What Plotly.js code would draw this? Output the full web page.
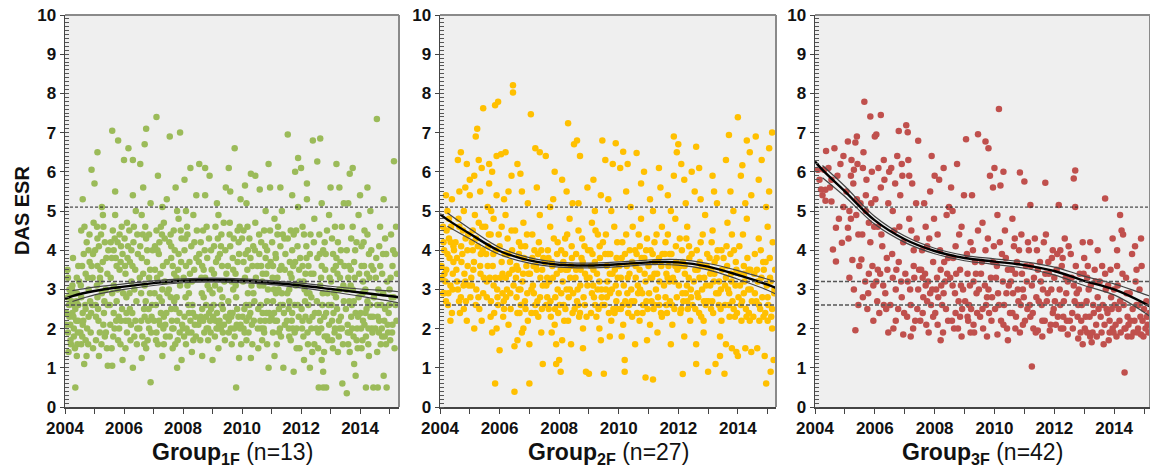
<!DOCTYPE html>
<html><head><meta charset="utf-8">
<script src="https://cdn.plot.ly/plotly-3.0.1.min.js"></script>
<style>html,body{margin:0;padding:0;background:#fff}#chart{width:1150px;height:468px}</style>
</head><body><div id="chart"></div>
<script>
// ---- data ----
const groupNames = ['1F', '2F', '3F'];
const groupN = [13, 27, 42];
const refLines = [5.1, 3.2, 2.6];
const fitYears = [2004, 2004.25, 2005, 2006, 2007, 2008, 2009, 2010, 2011, 2012, 2013, 2014, 2015, 2015.3];

const fit1F = [2.76, 2.83, 2.96, 3.07, 3.16, 3.22, 3.24, 3.22, 3.17, 3.10, 3.01, 2.92, 2.83, 2.80];
const up1F  = [null, 2.97, 3.06, 3.14, 3.22, 3.27, 3.29, 3.27, 3.22, 3.16, 3.08, 3.01, 2.96, 2.94];
const lo1F  = [null, 2.69, 2.86, 3.00, 3.10, 3.17, 3.19, 3.17, 3.12, 3.04, 2.94, 2.83, 2.70, 2.66];

const fit2F = [4.92, 4.78, 4.42, 3.98, 3.74, 3.63, 3.61, 3.64, 3.69, 3.69, 3.58, 3.37, 3.12, 3.03];
const up2F  = [null, 4.95, 4.55, 4.07, 3.81, 3.69, 3.67, 3.70, 3.75, 3.76, 3.66, 3.48, 3.26, 3.19];
const lo2F  = [null, 4.61, 4.29, 3.89, 3.67, 3.57, 3.55, 3.58, 3.63, 3.62, 3.50, 3.26, 2.98, 2.87];

const fit3F = [6.26, 6.05, 5.50, 4.76, 4.28, 3.98, 3.80, 3.71, 3.62, 3.47, 3.22, 3.00, 2.65, 2.52];
const up3F  = [null, 6.16, 5.63, 4.86, 4.36, 4.05, 3.87, 3.78, 3.70, 3.57, 3.34, 3.14, 2.88, 2.80];
const lo3F  = [null, 5.85, 5.37, 4.66, 4.20, 3.91, 3.73, 3.64, 3.54, 3.37, 3.10, 2.86, 2.42, 2.25];

const pts1F = [
[2004.1,2.8],[2004.15,2.3],[2004.2,1.6],[2004.25,3.1],[2004.3,2.0],[2004.35,0.5],[2004.35,2.5],[2004.4,3.3],[2004.4,1.3],[2004.45,2.2],[2004.2,2.9],[2004.3,2.6],[2004.1,1.9],[2004.45,3.6],
[2004.55,4.5],[2004.6,5.3],[2004.6,2.4],[2004.65,1.1],[2004.7,3.4],[2004.75,2.0],[2004.8,4.0],[2004.85,2.7],[2004.9,6.05],[2004.95,1.5],[2004.95,3.9],[2004.7,1.7],[2004.8,3.0],[2004.6,2.1],
[2005.0,5.7],[2005.05,2.3],[2005.1,6.5],[2005.1,4.3],[2005.15,1.3],[2005.2,3.5],[2005.25,5.1],[2005.3,2.1],[2005.3,4.6],[2005.35,1.8],[2005.4,3.8],[2005.45,2.6],[2005.45,1.05],[2005.2,3.2],[2005.1,2.8],
[2005.55,4.2],[2005.6,7.05],[2005.6,1.05],[2005.65,2.4],[2005.7,4.9],[2005.75,3.6],[2005.8,6.8],[2005.8,1.7],[2005.85,4.4],[2005.9,2.2],[2005.95,1.2],[2005.95,3.9],[2005.7,5.5],[2005.6,2.9],[2005.9,4.1],
[2006.0,6.3],[2006.05,3.4],[2006.1,1.9],[2006.1,4.7],[2006.15,6.6],[2006.2,2.5],[2006.25,4.0],[2006.3,6.3],[2006.3,1.0],[2006.35,3.0],[2006.4,5.0],[2006.45,2.0],[2006.45,4.4],[2006.2,3.7],[2006.05,2.2],
[2006.55,6.2],[2006.6,1.25],[2006.6,3.8],[2006.65,5.6],[2006.7,2.3],[2006.75,7.1],[2006.75,4.3],[2006.8,1.7],[2006.85,3.3],[2006.9,0.63],[2006.9,5.2],[2006.95,2.6],[2006.7,6.7],[2006.6,4.9],[2006.85,2.0],
[2007.1,7.4],[2007.05,3.5],[2007.1,1.9],[2007.15,5.9],[2007.2,4.2],[2007.25,2.4],[2007.3,1.3],[2007.3,3.0],[2007.35,4.7],[2007.4,2.1],[2007.45,5.3],[2007.45,3.7],[2007.2,2.8],[2007.1,4.5],[2007.35,1.6],
[2007.55,6.9],[2007.6,2.5],[2007.6,4.1],[2007.65,1.5],[2007.7,3.4],[2007.75,5.6],[2007.8,1.0],[2007.8,2.2],[2007.85,4.8],[2007.9,7.0],[2007.9,3.1],[2007.95,1.2],[2007.95,4.3],[2007.7,2.7],[2007.6,3.8],
[2008.0,2.0],[2008.05,5.8],[2008.1,3.6],[2008.1,1.6],[2008.15,4.4],[2008.2,2.4],[2008.25,6.1],[2008.3,3.2],[2008.3,1.4],[2008.35,4.9],[2008.4,2.1],[2008.45,3.8],[2008.45,5.4],[2008.2,2.9],[2008.05,4.0],
[2008.55,6.2],[2008.6,2.3],[2008.6,4.2],[2008.65,1.3],[2008.7,3.5],[2008.75,6.1],[2008.8,2.0],[2008.8,4.6],[2008.85,1.7],[2008.9,3.0],[2008.9,5.9],[2008.95,2.5],[2008.95,4.0],[2008.7,2.8],[2008.65,3.6],
[2009.0,1.2],[2009.05,3.4],[2009.1,4.6],[2009.1,2.2],[2009.15,5.2],[2009.2,1.5],[2009.25,3.9],[2009.3,2.6],[2009.3,4.4],[2009.35,1.9],[2009.4,3.2],[2009.45,5.6],[2009.45,2.3],[2009.2,2.0],[2009.0,2.9],
[2009.55,6.1],[2009.6,2.4],[2009.6,4.1],[2009.65,1.6],[2009.7,3.5],[2009.75,6.6],[2009.8,0.5],[2009.8,2.8],[2009.85,4.5],[2009.9,1.25],[2009.9,3.9],[2009.95,2.1],[2009.95,5.3],[2009.7,3.0],[2009.55,1.9],
[2010.0,4.3],[2010.05,2.0],[2010.1,5.65],[2010.1,3.3],[2010.15,1.7],[2010.2,4.0],[2010.25,2.6],[2010.3,5.95],[2010.3,1.25],[2010.35,3.6],[2010.4,2.2],[2010.45,4.7],[2010.45,5.9],[2010.2,2.9],[2010.05,3.7],
[2010.55,1.5],[2010.6,5.55],[2010.6,3.1],[2010.65,4.2],[2010.7,2.4],[2010.75,1.9],[2010.8,3.8],[2010.85,2.7],[2010.9,6.2],[2010.9,1.0],[2010.95,4.5],[2010.95,5.6],[2010.7,3.4],[2010.65,2.0],[2010.85,4.0],
[2011.0,2.3],[2011.05,3.6],[2011.1,1.3],[2011.1,4.8],[2011.15,2.9],[2011.2,3.3],[2011.25,1.9],[2011.3,4.1],[2011.3,2.6],[2011.35,5.0],[2011.4,1.0],[2011.45,3.5],[2011.45,2.1],[2011.2,4.4],[2011.05,2.7],
[2011.55,6.95],[2011.6,3.0],[2011.6,1.8],[2011.65,4.5],[2011.7,2.4],[2011.75,0.9],[2011.8,6.0],[2011.8,3.7],[2011.85,2.0],[2011.9,5.1],[2011.9,6.35],[2011.95,3.2],[2011.95,1.5],[2011.7,4.0],[2011.6,2.7],
[2012.0,6.1],[2012.05,2.2],[2012.1,4.4],[2012.1,1.2],[2012.15,3.4],[2012.2,5.3],[2012.25,2.6],[2012.3,1.0],[2012.3,3.9],[2012.35,2.0],[2012.4,6.8],[2012.45,4.8],[2012.45,1.6],[2012.2,2.9],[2012.05,3.6],
[2012.55,6.26],[2012.6,0.5],[2012.6,2.4],[2012.65,6.85],[2012.7,1.2],[2012.7,3.6],[2012.75,0.9],[2012.8,4.2],[2012.8,1.8],[2012.85,0.5],[2012.9,2.9],[2012.95,4.9],[2012.95,2.1],[2012.65,3.1],[2012.75,0.5],
[2013.0,5.6],[2013.05,1.7],[2013.1,3.5],[2013.1,2.4],[2013.15,4.6],[2013.2,6.2],[2013.25,1.4],[2013.3,3.0],[2013.3,2.0],[2013.35,4.0],[2013.4,0.6],[2013.45,5.2],[2013.45,2.7],[2013.2,3.8],[2013.05,2.2],
[2013.55,0.35],[2013.6,3.3],[2013.6,1.6],[2013.65,5.95],[2013.7,4.3],[2013.7,2.3],[2013.75,6.1],[2013.8,1.1],[2013.8,3.7],[2013.85,0.8],[2013.9,2.0],[2013.95,4.9],[2013.95,2.8],[2013.65,1.9],[2013.75,3.0],
[2014.0,5.4],[2014.05,1.5],[2014.1,3.2],[2014.1,2.2],[2014.15,4.5],[2014.2,0.5],[2014.25,2.7],[2014.3,3.9],[2014.3,1.3],[2014.35,5.0],[2014.4,2.0],[2014.45,0.5],[2014.45,3.5],[2014.2,1.8],[2014.05,4.1],
[2014.57,7.35],[2014.6,0.5],[2014.6,2.3],[2014.65,4.1],[2014.7,1.6],[2014.75,3.4],[2014.8,0.8],[2014.8,5.3],[2014.85,2.5],[2015.15,6.27],[2014.95,1.9],[2015.0,3.0],[2015.05,4.4],[2015.1,2.1],[2015.1,3.6],[2014.9,0.5]
];
const pts1Fmore = [
[2004.05,2.4],[2004.1,3.3],[2004.12,1.4],[2004.18,2.1],[2004.22,2.7],[2004.27,3.8],[2004.3,1.8],[2004.33,2.9],[2004.38,2.2],[2004.42,1.6],[2004.45,2.6],[2004.48,3.2],[2004.25,2.4],[2004.15,3.0],[2004.4,2.9],
[2004.52,1.9],[2004.55,2.8],[2004.58,3.6],[2004.62,2.2],[2004.66,4.6],[2004.7,2.5],[2004.73,1.3],[2004.77,3.3],[2004.8,2.3],[2004.83,4.4],[2004.87,1.9],[2004.9,3.6],[2004.93,2.6],[2004.97,4.7],[2004.55,1.6],
[2005.02,4.0],[2005.05,1.7],[2005.08,3.1],[2005.12,2.5],[2005.15,4.1],[2005.18,1.9],[2005.22,4.4],[2005.25,2.9],[2005.28,3.7],[2005.32,2.4],[2005.35,4.2],[2005.38,3.0],[2005.42,1.5],[2005.47,4.0],[2005.1,3.6],
[2005.52,2.6],[2005.55,3.3],[2005.58,1.5],[2005.62,4.5],[2005.65,3.1],[2005.68,2.0],[2005.72,3.8],[2005.75,2.7],[2005.78,4.2],[2005.82,2.3],[2005.85,3.5],[2005.88,1.6],[2005.92,4.6],[2005.97,2.9],[2005.65,4.0],
[2006.02,4.3],[2006.05,1.5],[2006.08,2.8],[2006.12,3.8],[2006.15,2.2],[2006.18,4.5],[2006.22,1.7],[2006.25,3.2],[2006.28,2.4],[2006.32,4.2],[2006.35,1.8],[2006.38,3.5],[2006.42,2.7],[2006.47,3.9],[2006.3,5.4],
[2006.52,2.0],[2006.55,4.1],[2006.58,2.9],[2006.62,1.8],[2006.65,3.4],[2006.68,2.5],[2006.72,4.6],[2006.75,1.5],[2006.78,3.7],[2006.82,2.2],[2006.85,4.4],[2006.88,2.9],[2006.92,1.9],[2006.97,4.0],[2006.7,3.1],
[2007.02,2.2],[2007.05,4.1],[2007.08,2.6],[2007.12,3.3],[2007.15,1.6],[2007.18,3.9],[2007.22,2.1],[2007.25,4.6],[2007.28,2.7],[2007.32,3.6],[2007.35,2.3],[2007.38,4.3],[2007.42,1.8],[2007.47,2.9],[2007.3,5.1],
[2007.52,3.0],[2007.55,1.8],[2007.58,4.4],[2007.62,2.2],[2007.65,3.6],[2007.68,2.0],[2007.72,4.0],[2007.75,2.5],[2007.78,3.3],[2007.82,1.7],[2007.85,3.9],[2007.88,2.4],[2007.92,4.5],[2007.97,2.1],[2007.8,5.0],
[2008.02,3.3],[2008.05,2.3],[2008.08,4.3],[2008.12,2.0],[2008.15,3.1],[2008.18,1.9],[2008.22,3.7],[2008.25,2.2],[2008.28,4.1],[2008.32,2.6],[2008.35,1.7],[2008.38,3.5],[2008.42,2.3],[2008.47,4.5],[2008.1,5.0],
[2008.52,2.1],[2008.55,3.9],[2008.58,2.2],[2008.62,3.3],[2008.65,2.5],[2008.68,4.5],[2008.72,1.9],[2008.75,3.3],[2008.78,2.3],[2008.82,3.8],[2008.85,2.0],[2008.88,4.3],[2008.92,2.2],[2008.97,3.5],[2008.75,5.4],
[2009.02,2.3],[2009.05,4.1],[2009.08,1.8],[2009.12,3.7],[2009.15,2.4],[2009.18,4.3],[2009.22,2.1],[2009.25,3.0],[2009.28,2.0],[2009.32,3.6],[2009.35,2.5],[2009.38,4.7],[2009.42,1.7],[2009.47,3.4],[2009.2,4.9],
[2009.52,3.6],[2009.55,2.2],[2009.58,4.4],[2009.62,2.0],[2009.65,3.2],[2009.68,2.4],[2009.72,4.3],[2009.75,1.8],[2009.78,3.4],[2009.82,2.1],[2009.85,3.7],[2009.88,2.3],[2009.92,4.6],[2009.97,1.6],[2009.6,5.5],
[2010.02,2.3],[2010.05,4.5],[2010.08,2.5],[2010.12,3.9],[2010.15,2.2],[2010.18,3.5],[2010.22,1.9],[2010.25,4.3],[2010.28,2.4],[2010.32,3.1],[2010.35,1.6],[2010.38,4.1],[2010.42,2.7],[2010.47,3.3],[2010.15,5.2],
[2010.52,3.6],[2010.55,2.5],[2010.58,4.4],[2010.62,2.2],[2010.65,3.6],[2010.68,1.7],[2010.72,3.1],[2010.75,4.5],[2010.78,2.2],[2010.82,3.4],[2010.85,1.6],[2010.88,3.0],[2010.92,2.4],[2010.97,3.7],[2010.8,5.0],
[2011.02,4.2],[2011.05,1.9],[2011.08,3.0],[2011.12,2.2],[2011.15,3.8],[2011.18,1.6],[2011.22,4.6],[2011.25,2.5],[2011.28,3.5],[2011.32,1.8],[2011.35,2.9],[2011.38,4.4],[2011.42,2.4],[2011.47,3.9],[2011.3,5.6],
[2011.52,2.2],[2011.55,4.3],[2011.58,2.5],[2011.62,3.7],[2011.65,1.7],[2011.68,3.3],[2011.72,2.0],[2011.75,4.4],[2011.78,2.6],[2011.82,3.1],[2011.85,1.5],[2011.88,4.1],[2011.92,2.3],[2011.97,3.8],[2011.7,5.4],
[2012.02,2.5],[2012.05,4.6],[2012.08,1.8],[2012.12,3.0],[2012.15,2.3],[2012.18,4.1],[2012.22,1.9],[2012.25,3.6],[2012.28,2.2],[2012.32,4.4],[2012.35,2.8],[2012.38,1.4],[2012.42,3.4],[2012.47,2.4],[2012.2,5.7],
[2012.52,2.0],[2012.55,3.8],[2012.58,1.5],[2012.62,4.4],[2012.65,2.2],[2012.68,3.3],[2012.72,2.6],[2012.75,4.0],[2012.78,1.4],[2012.82,3.5],[2012.85,2.4],[2012.88,4.5],[2012.92,1.7],[2012.97,3.3],[2012.7,5.2],
[2013.02,3.2],[2013.05,4.3],[2013.08,1.5],[2013.12,2.9],[2013.15,2.0],[2013.18,3.6],[2013.22,2.5],[2013.25,4.2],[2013.28,1.8],[2013.32,3.3],[2013.35,2.3],[2013.38,4.6],[2013.42,1.6],[2013.47,3.6],[2013.3,5.6],
[2013.52,2.5],[2013.55,4.0],[2013.58,2.1],[2013.62,3.6],[2013.65,1.4],[2013.68,3.1],[2013.72,2.6],[2013.75,4.6],[2013.78,1.8],[2013.82,3.3],[2013.85,2.4],[2013.88,4.2],[2013.92,1.5],[2013.97,3.4],[2013.6,5.2],
[2014.02,2.4],[2014.05,3.6],[2014.08,1.7],[2014.12,4.2],[2014.15,2.1],[2014.18,3.0],[2014.22,2.5],[2014.25,4.4],[2014.28,1.6],[2014.32,3.3],[2014.35,2.3],[2014.38,4.0],[2014.42,1.9],[2014.47,2.8],[2014.25,5.6],
[2014.52,2.0],[2014.55,3.8],[2014.58,1.4],[2014.62,3.0],[2014.65,2.2],[2014.68,4.6],[2014.72,2.6],[2014.75,1.8],[2014.78,3.9],[2014.82,2.2],[2014.85,4.3],[2014.88,1.6],[2014.92,3.2],[2014.97,2.4],[2015.02,1.7],[2015.07,2.8],[2015.12,4.0],[2015.17,1.5],[2015.2,2.6],[2015.25,3.4],[2015.22,4.6]
];
const pts1Fextra = [
[2004.035,2.1],[2004.085,3.5],[2004.135,2.6],[2004.185,1.7],[2004.235,3.0],[2004.285,2.3],[2004.335,1.5],[2004.385,2.7],[2004.435,1.9],
[2004.535,3.1],[2004.585,1.8],[2004.635,3.9],[2004.685,2.6],[2004.735,4.2],[2004.785,1.6],[2004.835,3.7],[2004.885,2.4],[2004.935,3.3],
[2005.035,2.6],[2005.085,4.6],[2005.135,2.2],[2005.185,3.3],[2005.235,1.6],[2005.285,4.9],[2005.335,2.7],[2005.385,1.9],[2005.435,3.4],
[2005.535,2.1],[2005.585,3.8],[2005.635,1.8],[2005.685,4.3],[2005.735,2.2],[2005.785,3.0],[2005.835,2.0],[2005.885,3.7],[2005.935,2.5],
[2006.035,3.6],[2006.085,2.4],[2006.135,4.1],[2006.185,2.9],[2006.235,2.1],[2006.285,3.6],[2006.335,4.6],[2006.385,2.2],[2006.435,1.6],
[2006.535,3.3],[2006.585,2.2],[2006.635,4.4],[2006.685,1.6],[2006.735,2.7],[2006.785,4.0],[2006.835,2.5],[2006.885,3.5],[2006.935,2.3],
[2007.035,2.9],[2007.085,1.7],[2007.135,4.0],[2007.185,2.2],[2007.235,3.4],[2007.285,4.4],[2007.335,2.0],[2007.385,3.2],[2007.435,2.4],
[2007.535,4.2],[2007.585,2.8],[2007.635,2.0],[2007.685,4.5],[2007.735,1.6],[2007.785,2.8],[2007.835,3.5],[2007.885,1.9],[2007.935,3.7],
[2008.035,1.8],[2008.085,2.8],[2008.135,4.6],[2008.185,2.6],[2008.235,3.4],[2008.285,1.9],[2008.335,2.4],[2008.385,4.2],[2008.435,1.8],
[2008.535,3.7],[2008.585,1.7],[2008.635,2.9],[2008.685,2.2],[2008.735,4.0],[2008.785,2.6],[2008.835,3.1],[2008.885,2.4],[2008.935,1.9],
[2009.035,2.6],[2009.085,3.1],[2009.135,2.0],[2009.185,3.8],[2009.235,2.2],[2009.285,4.1],[2009.335,2.8],[2009.385,2.1],[2009.435,4.0],
[2009.535,2.7],[2009.585,4.7],[2009.635,2.3],[2009.685,3.8],[2009.735,2.0],[2009.785,3.1],[2009.835,2.5],[2009.885,4.2],[2009.935,2.0],
[2010.035,3.2],[2010.085,1.9],[2010.135,2.6],[2010.185,4.6],[2010.235,2.3],[2010.285,3.8],[2010.335,2.1],[2010.385,2.9],[2010.435,4.0],
[2010.535,2.0],[2010.585,3.9],[2010.635,2.6],[2010.685,3.2],[2010.735,2.0],[2010.785,4.1],[2010.835,2.4],[2010.885,3.6],[2010.935,2.2],
[2011.035,3.3],[2011.085,2.4],[2011.135,3.9],[2011.185,2.2],[2011.235,3.0],[2011.285,2.0],[2011.335,3.6],[2011.385,2.6],[2011.435,4.3],
[2011.535,2.9],[2011.585,2.0],[2011.635,3.4],[2011.685,2.2],[2011.735,3.6],[2011.785,1.9],[2011.835,4.5],[2011.885,2.6],[2011.935,3.5],
[2012.035,2.0],[2012.085,3.2],[2012.135,2.7],[2012.185,3.8],[2012.235,1.6],[2012.285,2.9],[2012.335,3.4],[2012.385,2.3],[2012.435,4.2],
[2012.535,2.7],[2012.585,1.9],[2012.635,3.9],[2012.685,2.0],[2012.735,2.9],[2012.785,2.3],[2012.835,3.9],[2012.885,1.8],[2012.935,2.6],
[2013.035,2.6],[2013.085,3.9],[2013.135,1.9],[2013.185,2.8],[2013.235,3.4],[2013.285,2.2],[2013.335,3.7],[2013.385,2.0],[2013.435,3.1],
[2013.535,3.0],[2013.585,1.9],[2013.635,2.7],[2013.685,3.5],[2013.735,2.0],[2013.785,2.7],[2013.835,4.0],[2013.885,1.7],[2013.935,2.3],
[2014.035,2.0],[2014.085,2.9],[2014.135,3.6],[2014.185,2.4],[2014.235,3.4],[2014.285,2.0],[2014.335,2.6],[2014.385,3.6],[2014.435,2.3],
[2014.535,3.3],[2014.585,2.6],[2014.635,1.9],[2014.685,3.6],[2014.735,2.0],[2014.785,2.9],[2014.835,1.8],[2014.885,3.9],[2014.935,2.1],[2014.985,2.6],[2015.035,3.3],[2015.085,1.9],[2015.135,2.8],[2015.185,3.9],[2015.235,2.2]
];

const pts2F = [
[2004.1,4.6],[2004.15,3.4],[2004.2,2.7],[2004.2,5.4],[2004.25,3.9],[2004.3,4.3],[2004.35,3.1],[2004.4,2.4],[2004.4,5.3],[2004.45,3.7],[2004.3,4.8],[2004.15,2.9],[2004.45,4.1],
[2004.55,3.5],[2004.6,6.3],[2004.65,4.6],[2004.7,6.5],[2004.7,2.8],[2004.75,3.9],[2004.8,5.0],[2004.85,3.2],[2004.9,6.2],[2004.9,2.2],[2004.95,4.4],[2004.6,3.0],[2004.8,2.5],
[2005.0,5.8],[2005.0,5.4],[2005.05,3.3],[2005.1,4.0],[2005.15,2.0],[2005.2,6.9],[2005.2,2.6],[2005.25,7.1],[2005.3,4.7],[2005.3,6.3],[2005.35,3.6],[2005.4,6.1],[2005.45,7.62],[2005.45,2.9],[2005.1,4.5],[2005.35,5.5],
[2005.55,3.9],[2005.6,5.1],[2005.65,6.2],[2005.7,2.3],[2005.7,4.4],[2005.75,6.0],[2005.8,3.1],[2005.85,0.6],[2005.85,7.7],[2005.9,5.4],[2005.9,6.4],[2005.95,7.79],[2005.95,2.6],[2005.6,3.6],[2005.8,4.8],[2005.75,1.9],
[2006.0,1.45],[2006.0,4.1],[2006.05,6.45],[2006.1,3.4],[2006.15,2.5],[2006.2,4.9],[2006.25,3.0],[2006.3,5.5],[2006.3,2.1],[2006.35,3.7],[2006.4,4.5],[2006.45,8.21],[2006.45,8.02],[2006.5,0.39],[2006.5,1.55],[2006.2,6.5],[2006.1,2.9],
[2006.55,3.3],[2006.6,6.2],[2006.6,2.4],[2006.65,4.2],[2006.7,5.95],[2006.7,3.0],[2006.75,1.9],[2006.8,4.7],[2006.85,2.7],[2006.9,3.6],[2006.95,5.2],[2006.95,2.2],[2006.65,3.9],[2006.8,2.0],
[2007.0,0.6],[2007.0,1.6],[2007.05,7.47],[2007.1,4.4],[2007.15,2.9],[2007.2,6.6],[2007.25,3.5],[2007.3,2.3],[2007.35,6.5],[2007.4,4.0],[2007.45,1.1],[2007.45,3.1],[2007.2,2.6],[2007.35,4.9],[2007.1,3.8],
[2007.55,6.4],[2007.6,3.3],[2007.65,2.5],[2007.7,4.6],[2007.75,3.7],[2007.8,5.3],[2007.85,2.1],[2007.9,1.6],[2007.9,1.1],[2007.95,4.2],[2007.95,3.0],[2007.6,2.8],[2007.75,1.9],[2008.0,1.2],
[2008.05,0.9],[2008.05,3.5],[2008.1,5.8],[2008.15,2.6],[2008.2,4.3],[2008.25,3.0],[2008.3,7.24],[2008.3,2.2],[2008.35,4.8],[2008.4,3.6],[2008.45,2.4],[2008.45,5.2],[2008.2,3.9],[2008.1,1.7],
[2008.5,6.7],[2008.55,3.3],[2008.6,6.8],[2008.6,2.7],[2008.65,4.5],[2008.7,6.4],[2008.75,3.8],[2008.8,2.0],[2008.85,4.1],[2008.9,0.9],[2008.95,3.1],[2008.95,5.6],[2008.7,2.4],[2009.0,0.85],
[2009.05,4.0],[2009.1,2.9],[2009.15,3.5],[2009.2,5.0],[2009.25,2.3],[2009.3,4.4],[2009.35,3.2],[2009.4,1.7],[2009.45,6.8],[2009.45,2.6],[2009.2,3.7],[2009.1,4.7],[2009.35,2.0],
[2009.5,0.85],[2009.55,3.9],[2009.6,2.8],[2009.65,5.3],[2009.7,3.4],[2009.75,2.2],[2009.8,6.2],[2009.85,4.6],[2009.9,6.73],[2009.9,3.1],[2009.95,2.5],[2009.95,4.2],[2009.7,1.8],[2009.6,3.6],
[2010.0,2.9],[2010.05,6.1],[2010.1,3.8],[2010.15,6.51],[2010.15,2.1],[2010.2,0.9],[2010.2,1.2],[2010.25,4.4],[2010.3,3.3],[2010.35,2.6],[2010.4,5.1],[2010.45,3.7],[2010.3,6.2],[2010.45,2.3],
[2010.55,4.0],[2010.6,6.48],[2010.65,2.9],[2010.7,3.5],[2010.75,4.8],[2010.8,2.4],[2010.85,6.0],[2010.9,0.75],[2010.9,3.2],[2010.95,4.3],[2010.95,1.7],[2010.7,2.2],[2010.6,3.9],
[2011.0,3.6],[2011.05,5.3],[2011.1,2.7],[2011.15,0.7],[2011.2,4.2],[2011.25,3.0],[2011.3,1.9],[2011.35,3.8],[2011.4,5.6],[2011.45,2.3],[2011.45,4.6],[2011.2,3.4],[2011.05,2.1],
[2011.55,3.9],[2011.6,2.6],[2011.65,4.4],[2011.7,3.2],[2011.75,5.0],[2011.8,2.1],[2011.85,6.9],[2011.9,3.6],[2011.95,6.5],[2011.95,2.8],[2011.75,1.6],[2011.6,3.4],[2011.9,4.8],
[2012.0,6.7],[2012.05,4.3],[2012.1,2.5],[2012.15,0.84],[2012.15,3.7],[2012.2,5.8],[2012.25,2.9],[2012.3,4.6],[2012.35,3.3],[2012.4,2.2],[2012.45,6.0],[2012.45,3.9],[2012.2,1.8],[2012.3,2.7],
[2012.55,5.5],[2012.6,1.1],[2012.6,6.64],[2012.65,3.5],[2012.7,2.4],[2012.75,4.2],[2012.8,3.0],[2012.85,1.9],[2012.9,4.9],[2012.95,2.7],[2012.95,3.6],[2012.7,6.1],[2012.85,2.2],
[2013.0,0.9],[2013.05,3.8],[2013.1,2.5],[2013.15,4.5],[2013.2,3.2],[2013.25,1.1],[2013.3,5.2],[2013.35,2.9],[2013.4,1.3],[2013.45,4.0],[2013.45,2.2],[2013.2,5.5],[2013.1,3.5],
[2013.55,0.85],[2013.6,3.3],[2013.6,1.6],[2013.65,4.7],[2013.7,6.94],[2013.7,2.6],[2013.75,3.9],[2013.8,1.5],[2013.85,5.0],[2013.9,2.3],[2013.95,3.5],[2013.95,1.4],[2013.8,4.4],[2014.0,7.39],
[2014.0,1.3],[2014.05,4.1],[2014.1,2.6],[2014.15,6.17],[2014.2,3.6],[2014.25,1.5],[2014.3,6.8],[2014.3,4.8],[2014.35,3.0],[2014.4,2.2],[2014.45,1.4],[2014.45,5.4],[2014.2,2.9],[2014.4,6.5],
[2014.55,3.4],[2014.6,6.9],[2014.65,1.5],[2014.7,4.3],[2014.75,2.5],[2014.8,6.3],[2014.85,3.7],[2014.9,1.3],[2014.95,0.6],[2014.95,5.1],[2015.0,2.2],[2015.05,6.6],[2015.1,0.9],[2015.1,3.2],[2015.15,7.0],[2015.15,2.0],[2015.0,4.6],[2015.2,1.2]
];
const pts2Fmore = [
[2004.05,3.6],[2004.1,2.9],[2004.12,4.2],[2004.18,3.2],[2004.22,4.5],[2004.27,2.6],[2004.32,3.8],[2004.37,4.6],[2004.42,3.0],[2004.47,4.0],[2004.25,5.0],[2004.35,2.2],
[2004.52,4.2],[2004.57,3.2],[2004.62,4.8],[2004.67,2.4],[2004.72,3.7],[2004.77,4.5],[2004.82,3.4],[2004.87,2.7],[2004.92,4.0],[2004.97,3.1],[2004.65,5.5],[2004.85,5.6],
[2005.02,2.8],[2005.07,4.2],[2005.12,3.5],[2005.17,4.9],[2005.22,3.0],[2005.27,4.1],[2005.32,2.5],[2005.37,3.9],[2005.42,4.6],[2005.47,3.3],[2005.15,5.9],[2005.4,2.2],
[2005.52,4.6],[2005.57,2.8],[2005.62,4.1],[2005.67,3.3],[2005.72,5.0],[2005.77,3.6],[2005.82,2.4],[2005.87,4.0],[2005.92,3.0],[2005.97,4.4],[2005.65,5.7],[2005.9,2.0],
[2006.02,3.3],[2006.07,4.6],[2006.12,2.3],[2006.17,3.9],[2006.22,2.8],[2006.27,4.3],[2006.32,3.4],[2006.37,2.5],[2006.42,4.0],[2006.47,3.1],[2006.15,5.3],[2006.4,5.9],
[2006.52,4.5],[2006.57,2.8],[2006.62,3.5],[2006.67,2.4],[2006.72,4.1],[2006.77,3.2],[2006.82,3.8],[2006.87,2.5],[2006.92,4.4],[2006.97,3.4],[2006.75,5.5],[2006.6,1.7],
[2007.02,3.4],[2007.07,2.4],[2007.12,3.1],[2007.17,4.0],[2007.22,3.6],[2007.27,2.7],[2007.32,4.2],[2007.37,3.3],[2007.42,2.5],[2007.47,3.8],[2007.25,5.6],[2007.4,1.9],
[2007.52,3.7],[2007.57,2.6],[2007.62,4.0],[2007.67,3.2],[2007.72,2.3],[2007.77,3.6],[2007.82,4.3],[2007.87,2.8],[2007.92,3.4],[2007.97,2.4],[2007.7,5.1],[2007.85,6.0],
[2008.02,2.6],[2008.07,4.0],[2008.12,3.2],[2008.17,2.2],[2008.22,3.5],[2008.27,4.4],[2008.32,2.8],[2008.37,3.3],[2008.42,4.1],[2008.47,2.9],[2008.25,5.5],[2008.4,1.6],
[2008.52,2.5],[2008.57,3.9],[2008.62,3.0],[2008.67,2.3],[2008.72,3.5],[2008.77,4.3],[2008.82,2.8],[2008.87,3.4],[2008.92,2.3],[2008.97,4.0],[2008.65,5.2],[2008.8,1.5],
[2009.02,3.3],[2009.07,2.4],[2009.12,3.9],[2009.17,2.8],[2009.22,4.5],[2009.27,3.4],[2009.32,2.5],[2009.37,3.8],[2009.42,3.0],[2009.47,4.2],[2009.15,5.8],[2009.4,5.4],
[2009.52,2.6],[2009.57,4.4],[2009.62,3.2],[2009.67,2.4],[2009.72,3.9],[2009.77,3.0],[2009.82,2.5],[2009.87,3.5],[2009.92,2.7],[2009.97,3.3],[2009.75,5.0],[2009.55,6.3],
[2010.02,3.6],[2010.07,2.5],[2010.12,4.2],[2010.17,3.1],[2010.22,2.7],[2010.27,3.6],[2010.32,2.4],[2010.37,4.0],[2010.42,3.0],[2010.47,4.6],[2010.25,5.5],[2010.1,1.8],
[2010.52,2.7],[2010.57,3.3],[2010.62,2.4],[2010.67,4.4],[2010.72,3.0],[2010.77,3.8],[2010.82,2.6],[2010.87,3.4],[2010.92,4.0],[2010.97,2.5],[2010.75,5.7],[2010.55,1.6],
[2011.02,2.9],[2011.07,4.0],[2011.12,3.3],[2011.17,2.5],[2011.22,3.7],[2011.27,4.4],[2011.32,2.8],[2011.37,3.2],[2011.42,2.4],[2011.47,3.9],[2011.15,5.0],[2011.35,6.1],
[2011.52,3.1],[2011.57,4.2],[2011.62,2.4],[2011.67,3.6],[2011.72,2.7],[2011.77,3.9],[2011.82,3.3],[2011.87,2.5],[2011.92,4.1],[2011.97,3.5],[2011.65,5.4],[2011.85,5.9],
[2012.02,3.1],[2012.07,2.4],[2012.12,4.0],[2012.17,2.7],[2012.22,3.4],[2012.27,4.3],[2012.32,2.5],[2012.37,3.8],[2012.42,3.0],[2012.47,2.6],[2012.25,5.2],[2012.1,6.2],
[2012.52,3.2],[2012.57,2.5],[2012.62,4.0],[2012.67,2.8],[2012.72,3.7],[2012.77,2.3],[2012.82,4.4],[2012.87,3.3],[2012.92,2.6],[2012.97,3.9],[2012.75,5.3],[2012.6,1.6],
[2013.02,2.7],[2013.07,3.4],[2013.12,4.2],[2013.17,2.4],[2013.22,3.7],[2013.27,2.9],[2013.32,4.0],[2013.37,3.2],[2013.42,2.5],[2013.47,3.5],[2013.15,5.9],[2013.4,1.8],
[2013.52,3.8],[2013.57,2.6],[2013.62,4.1],[2013.67,3.0],[2013.72,2.3],[2013.77,3.4],[2013.82,2.7],[2013.87,4.0],[2013.92,3.1],[2013.97,2.4],[2013.75,5.5],[2013.6,6.3],
[2014.02,2.8],[2014.07,3.4],[2014.12,2.2],[2014.17,4.4],[2014.22,3.2],[2014.27,2.5],[2014.32,3.8],[2014.37,2.4],[2014.42,3.5],[2014.47,2.7],[2014.25,5.2],[2014.1,5.9],
[2014.52,2.3],[2014.57,3.9],[2014.62,2.7],[2014.67,3.2],[2014.72,2.2],[2014.77,4.0],[2014.82,2.8],[2014.87,3.5],[2014.92,2.4],[2014.97,3.1],[2015.02,2.6],[2015.07,3.8],[2015.12,2.3],[2015.17,4.2],[2015.22,2.9],[2015.25,3.5],[2014.7,5.8],[2015.05,5.5]
];
const pts2Fextra = [
[2004.07,3.3],[2004.14,4.0],[2004.21,3.5],[2004.28,2.9],[2004.36,4.2],[2004.43,3.4],
[2004.57,3.8],[2004.64,2.7],[2004.71,4.1],[2004.79,3.1],[2004.86,4.3],[2004.93,3.6],
[2005.07,3.1],[2005.14,3.7],[2005.21,4.3],[2005.29,2.8],[2005.36,3.4],[2005.43,4.0],
[2005.57,3.2],[2005.64,4.4],[2005.71,2.7],[2005.79,3.9],[2005.86,3.3],[2005.93,2.8],
[2006.07,3.7],[2006.14,2.7],[2006.21,3.3],[2006.29,3.9],[2006.36,2.9],[2006.43,3.5],
[2006.57,3.6],[2006.64,3.0],[2006.71,2.6],[2006.79,3.4],[2006.86,4.1],[2006.93,2.9],
[2007.07,3.0],[2007.14,3.6],[2007.21,2.4],[2007.29,3.9],[2007.36,2.8],[2007.43,3.5],
[2007.57,3.1],[2007.64,3.8],[2007.71,2.7],[2007.79,3.3],[2007.86,2.5],[2007.93,3.9],
[2008.07,2.9],[2008.14,3.7],[2008.21,2.5],[2008.29,3.5],[2008.36,3.0],[2008.43,3.8],
[2008.57,3.5],[2008.64,2.6],[2008.71,3.1],[2008.79,3.7],[2008.86,2.6],[2008.93,3.3],
[2009.07,3.6],[2009.14,3.1],[2009.21,2.6],[2009.29,3.0],[2009.36,4.1],[2009.43,2.8],
[2009.57,3.0],[2009.64,3.9],[2009.71,2.9],[2009.79,3.4],[2009.86,2.4],[2009.93,3.8],
[2010.07,3.3],[2010.14,2.6],[2010.21,3.9],[2010.29,2.9],[2010.36,3.4],[2010.43,2.7],
[2010.57,3.6],[2010.64,3.1],[2010.71,4.1],[2010.79,2.9],[2010.86,3.8],[2010.93,2.7],
[2011.07,3.3],[2011.14,3.9],[2011.21,2.6],[2011.29,3.4],[2011.36,2.6],[2011.43,3.6],
[2011.57,2.8],[2011.64,3.3],[2011.71,3.9],[2011.79,2.6],[2011.86,3.2],[2011.93,3.7],
[2012.07,3.6],[2012.14,2.9],[2012.21,3.6],[2012.29,3.1],[2012.36,4.1],[2012.43,2.8],
[2012.57,3.5],[2012.64,2.9],[2012.71,3.3],[2012.79,3.6],[2012.86,2.7],[2012.93,3.1],
[2013.07,3.1],[2013.14,2.7],[2013.21,3.4],[2013.29,3.8],[2013.36,2.6],[2013.43,3.0],
[2013.57,3.1],[2013.64,3.6],[2013.71,2.9],[2013.79,3.2],[2013.86,2.5],[2013.93,3.7],
[2014.07,3.1],[2014.14,2.7],[2014.21,3.4],[2014.29,2.3],[2014.36,3.5],[2014.43,3.0],
[2014.57,2.9],[2014.64,3.5],[2014.71,2.6],[2014.79,3.3],[2014.86,2.3],[2014.93,3.7],[2015.0,2.8],[2015.08,3.3],[2015.15,2.5],[2015.23,3.0]
];

const pts3F = [
[2004.1,6.05],[2004.2,5.55],[2004.3,6.05],[2004.35,5.54],[2004.35,5.26],[2004.37,6.53],[2004.55,5.24],[2004.55,5.8],[2004.6,4.02],[2004.7,4.57],[2004.7,3.71],[2004.85,6.2],[2004.9,4.19],[2004.95,6.4],[2005.1,4.57],
[2005.1,6.77],[2005.15,5.0],[2005.2,5.9],[2005.25,3.75],[2005.3,6.05],[2005.35,1.96],[2005.35,6.75],[2005.4,6.9],[2005.4,5.3],[2005.45,4.4],[2005.3,3.0],[2005.45,2.6],[2005.2,4.8],
[2005.55,3.76],[2005.6,6.1],[2005.65,7.79],[2005.7,5.0],[2005.75,2.5],[2005.8,3.4],[2005.85,7.41],[2005.85,4.2],[2005.9,6.0],[2005.95,2.2],[2005.95,3.1],[2005.7,5.4],[2005.6,2.8],[2005.8,4.7],
[2006.0,6.9],[2006.05,6.95],[2006.1,3.5],[2006.15,2.4],[2006.2,7.45],[2006.2,5.6],[2006.25,4.1],[2006.3,6.3],[2006.35,2.9],[2006.4,3.8],[2006.45,5.2],[2006.45,1.9],[2006.1,4.6],[2006.3,2.6],[2006.05,3.2],
[2006.55,6.1],[2006.6,3.3],[2006.65,4.5],[2006.7,2.2],[2006.75,6.4],[2006.8,7.04],[2006.8,3.7],[2006.85,5.4],[2006.9,2.8],[2006.95,1.85],[2006.95,4.2],[2006.6,5.0],[2006.7,3.0],[2006.9,6.2],
[2007.05,7.19],[2007.1,7.01],[2007.1,3.2],[2007.15,4.8],[2007.2,2.6],[2007.25,5.7],[2007.3,3.6],[2007.35,2.2],[2007.4,4.3],[2007.45,6.79],[2007.45,3.0],[2007.2,1.8],[2007.3,4.0],[2007.15,5.9],
[2007.55,3.5],[2007.6,2.4],[2007.65,5.2],[2007.7,3.1],[2007.75,4.1],[2007.8,1.9],[2007.85,2.9],[2007.9,6.4],[2007.95,3.7],[2007.95,2.3],[2007.7,4.6],[2007.6,3.3],[2007.85,5.5],[2007.75,2.7],
[2008.0,5.9],[2008.05,3.0],[2008.1,2.1],[2008.1,4.4],[2008.15,5.8],[2008.2,3.5],[2008.25,2.6],[2008.3,6.1],[2008.35,3.2],[2008.4,4.9],[2008.45,2.2],[2008.45,3.8],[2008.2,1.7],[2008.3,2.9],
[2008.55,5.6],[2008.6,3.1],[2008.65,2.0],[2008.7,4.1],[2008.75,6.2],[2008.8,2.7],[2008.85,3.5],[2008.9,4.6],[2008.9,1.8],[2008.95,3.0],[2008.7,2.4],[2008.6,5.0],[2008.85,2.3],
[2009.05,6.83],[2009.1,3.4],[2009.15,2.6],[2009.2,4.2],[2009.25,5.4],[2009.3,2.1],[2009.35,3.7],[2009.4,2.9],[2009.45,6.96],[2009.45,4.5],[2009.2,1.9],[2009.3,3.2],[2009.1,2.3],
[2009.55,3.4],[2009.6,2.5],[2009.7,6.77],[2009.7,4.0],[2009.75,1.8],[2009.8,6.6],[2009.8,3.0],[2009.85,5.9],[2009.9,2.2],[2009.95,5.6],[2009.95,3.7],[2009.6,4.7],[2009.75,2.8],
[2010.0,6.1],[2010.05,3.3],[2010.1,1.85],[2010.15,7.6],[2010.15,2.6],[2010.2,5.65],[2010.25,3.9],[2010.3,2.1],[2010.35,4.5],[2010.4,2.9],[2010.45,3.5],[2010.45,1.7],[2010.1,4.9],[2010.3,6.0],
[2010.55,3.2],[2010.6,2.4],[2010.65,4.1],[2010.7,2.0],[2010.75,3.7],[2010.8,2.7],[2010.85,5.98],[2010.9,4.4],[2010.95,3.0],[2010.95,2.1],[2010.7,3.4],[2010.6,4.8],[2010.85,1.9],
[2011.0,5.75],[2011.05,3.6],[2011.1,2.5],[2011.15,4.0],[2011.2,5.15],[2011.25,1.03],[2011.25,3.1],[2011.3,2.0],[2011.35,4.3],[2011.4,2.8],[2011.45,3.5],[2011.45,1.95],[2011.2,2.3],
[2011.55,3.2],[2011.6,2.2],[2011.65,4.2],[2011.7,5.72],[2011.75,2.7],[2011.8,3.7],[2011.85,1.95],[2011.9,3.0],[2011.95,4.0],[2011.95,2.4],[2011.7,3.4],[2011.6,1.8],
[2012.0,3.3],[2012.05,2.1],[2012.1,3.9],[2012.15,5.15],[2012.2,2.6],[2012.25,3.6],[2012.3,2.0],[2012.35,4.3],[2012.4,2.9],[2012.45,1.85],[2012.45,3.2],[2012.2,4.0],[2012.3,2.3],
[2012.55,3.9],[2012.6,2.4],[2012.65,5.83],[2012.7,6.03],[2012.7,5.1],[2012.75,2.9],[2012.8,1.75],[2012.85,3.4],[2012.9,2.2],[2012.95,4.2],[2012.95,1.6],[2012.65,3.1],[2012.8,2.6],
[2013.0,3.8],[2013.05,2.3],[2013.1,1.9],[2013.15,3.0],[2013.2,4.2],[2013.25,1.65],[2013.3,2.6],[2013.35,3.5],[2013.4,2.1],[2013.45,4.0],[2013.45,2.8],[2013.2,1.8],[2013.1,3.3],
[2013.55,2.3],[2013.6,3.6],[2013.65,1.6],[2013.7,5.32],[2013.75,2.5],[2013.8,3.1],[2013.85,1.9],[2013.9,2.8],[2013.95,4.3],[2013.95,2.0],[2013.7,3.4],[2013.85,2.2],
[2014.0,3.0],[2014.05,2.1],[2014.1,4.0],[2014.15,2.5],[2014.2,4.9],[2014.25,4.5],[2014.3,4.4],[2014.35,0.88],[2014.35,2.0],[2014.4,3.3],[2014.45,2.3],[2014.45,1.8],[2014.2,2.7],[2014.1,3.6],
[2014.55,2.2],[2014.6,3.9],[2014.65,1.9],[2014.7,4.1],[2014.75,2.6],[2014.8,2.0],[2014.85,3.0],[2014.9,4.3],[2014.9,1.85],[2014.95,2.2],[2015.0,2.5],[2015.05,2.0],[2015.1,2.3],[2015.15,1.9],[2014.75,3.5]
];
const pts3Fmore = [
[2004.15,5.8],[2004.25,5.4],[2004.45,6.1],[2004.5,5.6],[2004.65,6.6],[2004.75,5.9],[2004.8,4.8],[2004.95,5.1],
[2005.05,5.5],[2005.12,4.3],[2005.22,6.3],[2005.28,5.7],[2005.38,4.9],[2005.42,6.2],[2005.48,3.6],[2005.15,3.3],
[2005.52,5.2],[2005.58,4.4],[2005.62,6.5],[2005.68,3.2],[2005.72,5.8],[2005.78,2.9],[2005.88,5.2],[2005.92,3.6],[2005.98,4.6],
[2006.02,5.3],[2006.08,2.7],[2006.12,6.1],[2006.18,3.4],[2006.22,4.4],[2006.28,3.1],[2006.32,5.8],[2006.38,2.5],[2006.42,3.5],[2006.48,6.0],
[2006.52,2.6],[2006.58,3.9],[2006.62,2.0],[2006.68,5.7],[2006.72,3.5],[2006.78,2.5],[2006.82,4.6],[2006.88,3.2],[2006.92,5.9],[2006.98,2.4],
[2007.02,3.4],[2007.08,2.3],[2007.12,6.3],[2007.18,3.0],[2007.22,4.5],[2007.28,2.0],[2007.32,3.3],[2007.38,5.2],[2007.42,2.5],[2007.48,3.5],
[2007.52,2.2],[2007.58,4.0],[2007.62,2.8],[2007.68,3.4],[2007.72,2.1],[2007.78,3.2],[2007.82,4.3],[2007.88,2.6],[2007.92,3.0],[2007.98,4.8],
[2008.02,2.4],[2008.08,3.3],[2008.12,2.8],[2008.18,4.0],[2008.22,3.1],[2008.28,1.9],[2008.32,3.7],[2008.38,2.5],[2008.42,3.4],[2008.48,5.1],
[2008.52,3.3],[2008.58,2.2],[2008.62,3.8],[2008.68,2.9],[2008.72,3.4],[2008.78,2.0],[2008.82,4.4],[2008.88,3.1],[2008.92,2.5],[2008.98,5.4],
[2009.02,2.7],[2009.08,3.9],[2009.12,2.2],[2009.18,3.1],[2009.22,2.5],[2009.28,4.0],[2009.32,1.9],[2009.38,3.4],[2009.42,2.4],[2009.48,3.0],
[2009.52,2.3],[2009.58,3.7],[2009.62,2.0],[2009.68,3.1],[2009.72,2.6],[2009.78,4.3],[2009.82,2.4],[2009.88,3.3],[2009.92,2.8],[2009.98,4.1],
[2010.02,2.5],[2010.08,3.6],[2010.12,2.9],[2010.18,4.2],[2010.22,2.2],[2010.28,3.2],[2010.32,2.6],[2010.38,3.8],[2010.42,2.0],[2010.48,3.1],
[2010.52,2.4],[2010.58,3.5],[2010.62,2.9],[2010.68,4.3],[2010.72,2.3],[2010.78,3.0],[2010.82,4.0],[2010.88,2.6],[2010.92,3.4],[2010.98,2.8],
[2011.02,2.2],[2011.08,3.2],[2011.12,4.2],[2011.18,2.6],[2011.22,3.6],[2011.28,2.4],[2011.32,3.3],[2011.38,1.9],[2011.42,4.0],[2011.48,2.7],
[2011.52,3.7],[2011.58,2.6],[2011.62,3.0],[2011.68,2.2],[2011.72,4.4],[2011.78,2.9],[2011.82,3.4],[2011.88,2.1],[2011.92,3.8],[2011.98,2.5],
[2012.02,2.7],[2012.08,3.5],[2012.12,2.3],[2012.18,3.0],[2012.22,2.0],[2012.28,3.8],[2012.32,2.7],[2012.38,3.3],[2012.42,2.2],[2012.48,4.1],
[2012.52,2.2],[2012.58,3.3],[2012.62,2.0],[2012.68,2.7],[2012.72,3.6],[2012.78,2.3],[2012.82,3.0],[2012.88,1.9],[2012.92,2.6],[2012.98,3.4],
[2013.02,2.0],[2013.08,2.7],[2013.12,3.6],[2013.18,2.3],[2013.22,3.1],[2013.28,1.9],[2013.32,2.4],[2013.38,3.2],[2013.42,1.8],[2013.48,2.5],
[2013.52,3.2],[2013.58,1.9],[2013.62,2.6],[2013.68,2.1],[2013.72,3.0],[2013.78,2.4],[2013.82,1.7],[2013.88,3.5],[2013.92,2.5],[2013.98,1.9],
[2014.02,2.6],[2014.08,1.8],[2014.12,3.1],[2014.18,2.2],[2014.22,1.9],[2014.28,3.4],[2014.32,2.6],[2014.38,2.0],[2014.42,2.9],[2014.48,2.1],
[2014.52,2.9],[2014.58,1.8],[2014.62,2.5],[2014.68,2.2],[2014.72,3.2],[2014.78,1.9],[2014.82,2.6],[2014.88,2.3],[2014.92,3.6],[2014.98,1.8],[2015.08,2.7],[2015.12,2.1],[2015.18,2.4]
];

// ---- drawing ----
const FONT = 'Liberation Sans, Arial, Helvetica, sans-serif';
const groups = [
  {pts: pts1F.concat(pts1Fmore, pts1Fextra), fit: fit1F, up: up1F, lo: lo1F, color: '#9BBB59'},
  {pts: pts2F.concat(pts2Fmore, pts2Fextra), fit: fit2F, up: up2F, lo: lo2F, color: '#FFC000'},
  {pts: pts3F.concat(pts3Fmore), fit: fit3F, up: up3F, lo: lo3F, color: '#C0504D'}
];
const W = 1150, H = 468;
const xDomPx = [[65, 399], [440, 776], [815, 1150]];
const xRanges = [[2004, 2015.32], [2004, 2015.28], [2004, 2015.2]];
const yDom = [1 - 407 / H, 1 - 15 / H];

const traces = [];
const layout = {
  width: W, height: H,
  margin: {l: 0, r: 0, t: 0, b: 0},
  paper_bgcolor: '#ffffff',
  plot_bgcolor: '#efefef',
  showlegend: false,
  font: {family: FONT, color: '#111'},
  shapes: [], annotations: []
};

groups.forEach((g, i) => {
  const xa = i === 0 ? 'x' : 'x' + (i + 1);
  const ya = i === 0 ? 'y' : 'y' + (i + 1);
  const xk = i === 0 ? 'xaxis' : 'xaxis' + (i + 1);
  const yk = i === 0 ? 'yaxis' : 'yaxis' + (i + 1);
  layout[xk] = {
    domain: [xDomPx[i][0] / W, xDomPx[i][1] / W], anchor: ya,
    range: xRanges[i], dtick: 2, tick0: 2004, showgrid: false, zeroline: false,
    showline: true, linecolor: '#444', linewidth: 1.5,
    ticks: 'outside', ticklen: 5, tickcolor: '#444',
    minor: {dtick: 1, tick0: 2004, ticks: 'outside', ticklen: 5, tickcolor: '#444', showgrid: false},
    tickfont: {family: FONT, size: 17, weight: 'bold', color: '#111'}
  };
  layout[yk] = {
    domain: yDom, anchor: xa,
    range: [0, 10], dtick: 1, showgrid: false, zeroline: false,
    showline: true, linecolor: '#444', linewidth: 1.5,
    ticks: 'outside', ticklen: 4, tickcolor: '#444',
    minor: {dtick: 0.1, ticks: 'inside', ticklen: 4, tickcolor: '#555', showgrid: false},
    tickfont: {family: FONT, size: 17, weight: 'bold', color: '#111'}
  };
  traces.push({
    type: 'scatter', mode: 'markers', xaxis: xa, yaxis: ya,
    x: g.pts.map(p => p[0]), y: g.pts.map(p => p[1]),
    marker: {color: g.color, size: 6.5, line: {width: 0}},
    cliponaxis: true
  });
  refLines.forEach((v, k) => {
    layout.shapes.push({
      type: 'line', xref: xa + ' domain', yref: ya, x0: 0, x1: 1, y0: v, y1: v,
      line: {color: k === 0 ? '#222' : '#555', width: k === 0 ? 1 : 1.5, dash: k === 0 ? '3px,2px' : '4px,2px'}
    });
  });
  layout.shapes.push({type: 'line', xref: xa + ' domain', yref: ya + ' domain', x0: 0, x1: 1, y0: 1, y1: 1, line: {color: '#8a8a8a', width: 2}});
  layout.shapes.push({type: 'line', xref: xa + ' domain', yref: ya + ' domain', x0: 1, x1: 1, y0: 0, y1: 1, line: {color: '#8a8a8a', width: 2}});
  [g.up, g.lo].forEach(b => traces.push({
    type: 'scatter', mode: 'lines', xaxis: xa, yaxis: ya, x: fitYears, y: b,
    line: {color: '#444', width: 1.2, shape: 'spline', smoothing: 1}, connectgaps: false
  }));
  traces.push({
    type: 'scatter', mode: 'lines', xaxis: xa, yaxis: ya, x: fitYears, y: g.fit,
    line: {color: '#000', width: 2.4, shape: 'spline', smoothing: 1}
  });
  layout.annotations.push({
    xref: xa + ' domain', yref: 'paper', x: 0.5, y: 1 - 453 / H, xanchor: 'center', yanchor: 'middle',
    showarrow: false, text: '<b>Group<sub>' + groupNames[i] + '</sub></b> (n=' + groupN[i] + ')',
    font: {family: FONT, size: 23, color: '#111'}
  });
});
layout.annotations.push({
  xref: 'paper', yref: 'paper', x: 22 / W, y: 1 - 211 / H, xanchor: 'center', yanchor: 'middle',
  showarrow: false, textangle: -90, text: '<b>DAS ESR</b>',
  font: {family: FONT, size: 20, color: '#111'}
});

Plotly.newPlot('chart', traces, layout, {staticPlot: true, displayModeBar: false});
</script></body></html>
